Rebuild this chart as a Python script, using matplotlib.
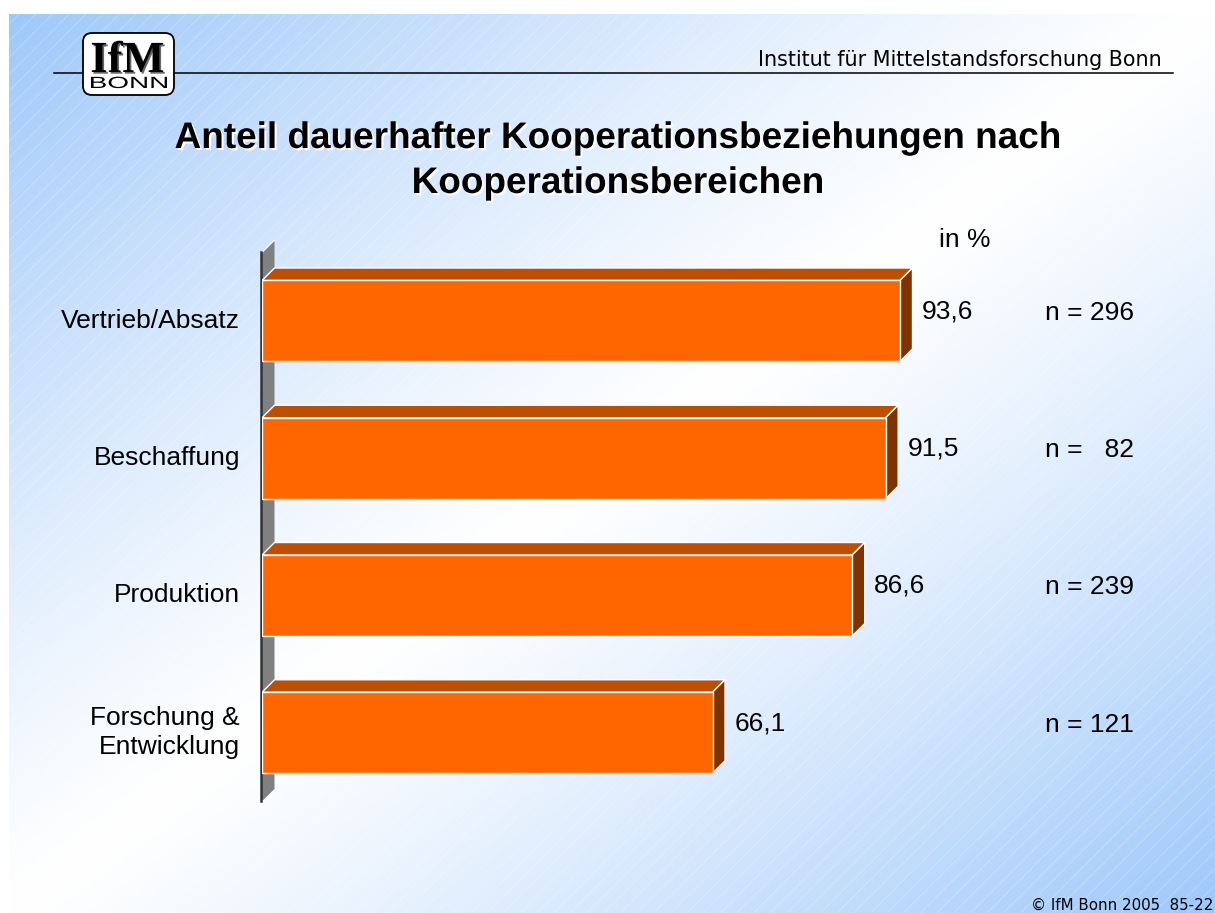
import matplotlib.pyplot as plt
import numpy as np
import matplotlib.patheffects as pe
from matplotlib.patches import Polygon, Rectangle, FancyBboxPatch, PathPatch
from matplotlib.textpath import TextPath
from matplotlib.font_manager import FontProperties
from matplotlib.transforms import Affine2D

# data
categories = ['Vertrieb/Absatz', 'Beschaffung', 'Produktion', 'Forschung &\nEntwicklung']
values = [93.6, 91.5, 86.6, 66.1]
value_labels = ['93,6', '91,5', '86,6', '66,1']
n_labels = ['n = 296', 'n =   82', 'n = 239', 'n = 121']

W, H = 1215, 913
plt.rcParams['font.family'] = ['Liberation Sans', 'DejaVu Sans']
plt.rcParams['hatch.linewidth'] = 0.6

fig = plt.figure(figsize=(W / 100, H / 100), dpi=100, facecolor='white')

# background (pixel coords, y down)
bg = fig.add_axes([0, 0, 1, 1])
bg.set_xlim(0, W)
bg.set_ylim(H, 0)
bg.axis('off')
xx, yy = np.meshgrid(np.linspace(0, 1, 400), np.linspace(0, 1, 400))
t = np.abs(xx + yy - 1) ** 1.2
blue = np.array([158, 200, 250]) / 255
img = 1 - t[..., None] * (1 - blue)
bg.imshow(img, extent=[9, W, H, 14], aspect='auto', interpolation='bilinear', zorder=0)
bg.add_patch(Rectangle((9, 14), W - 9, H - 14, facecolor='none', edgecolor=(1, 1, 1, 0.28),
                       hatch='//', lw=0, zorder=1))

# header
bg.plot([54, 1173], [73, 73], color='black', lw=1.1, zorder=2)
bg.text(1162, 66, 'Institut für Mittelstandsforschung Bonn', ha='right', va='baseline',
        fontsize=14.9, family='DejaVu Sans', zorder=2)

# logo
bg.add_patch(FancyBboxPatch((83, 33), 91, 62, boxstyle='round,pad=0,rounding_size=9',
                            fc='white', ec='black', lw=1.3, zorder=3))
bg.text(127.5, 72, 'IfM', ha='center', va='baseline', fontsize=32, family='Liberation Serif',
        weight='bold', zorder=4,
        path_effects=[pe.withSimplePatchShadow(offset=(1.2, -1.2), shadow_rgbFace='#555555', alpha=0.9)])
tp = TextPath((0, 0), 'BONN', size=16, prop=FontProperties(family='Liberation Sans'))
ext = tp.get_extents()
tr = Affine2D().translate(-ext.x0, 0).scale(76 / ext.width, -11.5 / ext.height).translate(91, 88)
bg.add_patch(PathPatch(tp, transform=tr + bg.transData, fc='black', lw=0, zorder=4))

# title
shadow = [pe.withSimplePatchShadow(offset=(1.5, -1.5), shadow_rgbFace='white', alpha=1)]
bg.text(618, 148, 'Anteil dauerhafter Kooperationsbeziehungen nach', ha='center', va='baseline',
        fontsize=26.6, weight='bold', path_effects=shadow, zorder=2)
bg.text(618, 193, 'Kooperationsbereichen', ha='center', va='baseline',
        fontsize=26.6, weight='bold', path_effects=shadow, zorder=2)
bg.text(939, 240, 'in %', ha='left', va='center', fontsize=19, zorder=2)

# footer
bg.text(1213, 910, '© IfM Bonn 2005  85-22', ha='right', va='baseline',
        fontsize=10.8, family='DejaVu Sans', zorder=2)

# bar chart
ppu = 6.816   # px per percent
ax = fig.add_axes([262 / W, (H - 800) / H, 100 * ppu / W, 560 / H])
ax.set_xlim(0, 100)
ax.set_ylim(3.49, -0.59)
ax.axis('off')

n = len(values)
y = np.arange(n)
h = 0.59
dx = 12.5 / ppu
dy = 12.5 / 137.3

# wall
ax.add_patch(Polygon([(0, -0.5), (dx, -0.5 - dy), (dx, n - 0.5 - dy), (0, n - 0.5)],
                     fc='#808080', ec='none', zorder=1))
ax.plot([0, dx], [-0.5, -0.5 - dy], color='white', lw=1, zorder=1)
ax.plot([-0.2, -0.2], [-0.5, n - 0.5], color='#333333', lw=1.8, zorder=2, clip_on=False)

for yi, v in zip(y, values):
    top = yi - h / 2
    bot = yi + h / 2
    ax.add_patch(Polygon([(0, top), (v, top), (v + dx, top - dy), (dx, top - dy)],
                         fc='#bf4f00', ec='white', lw=1, zorder=3))
    ax.add_patch(Polygon([(v, top), (v + dx, top - dy), (v + dx, bot - dy), (v, bot)],
                         fc='#7f3300', ec='white', lw=1, zorder=3))
ax.barh(y, values, height=h, color='#ff6600', edgecolor='white', linewidth=1, zorder=4)

for yi, v, cat, vl, nl in zip(y, values, categories, value_labels, n_labels):
    ax.text(-22 / ppu, yi, cat, ha='right', va='center', fontsize=19, linespacing=1.25)
    ax.text(v + 22 / ppu, yi - 0.07, vl, ha='left', va='center', fontsize=19)
    ax.text((1045 - 262) / ppu, yi - 0.06, nl, ha='left', va='center', fontsize=19)

fig.savefig('out.png', dpi=100)
